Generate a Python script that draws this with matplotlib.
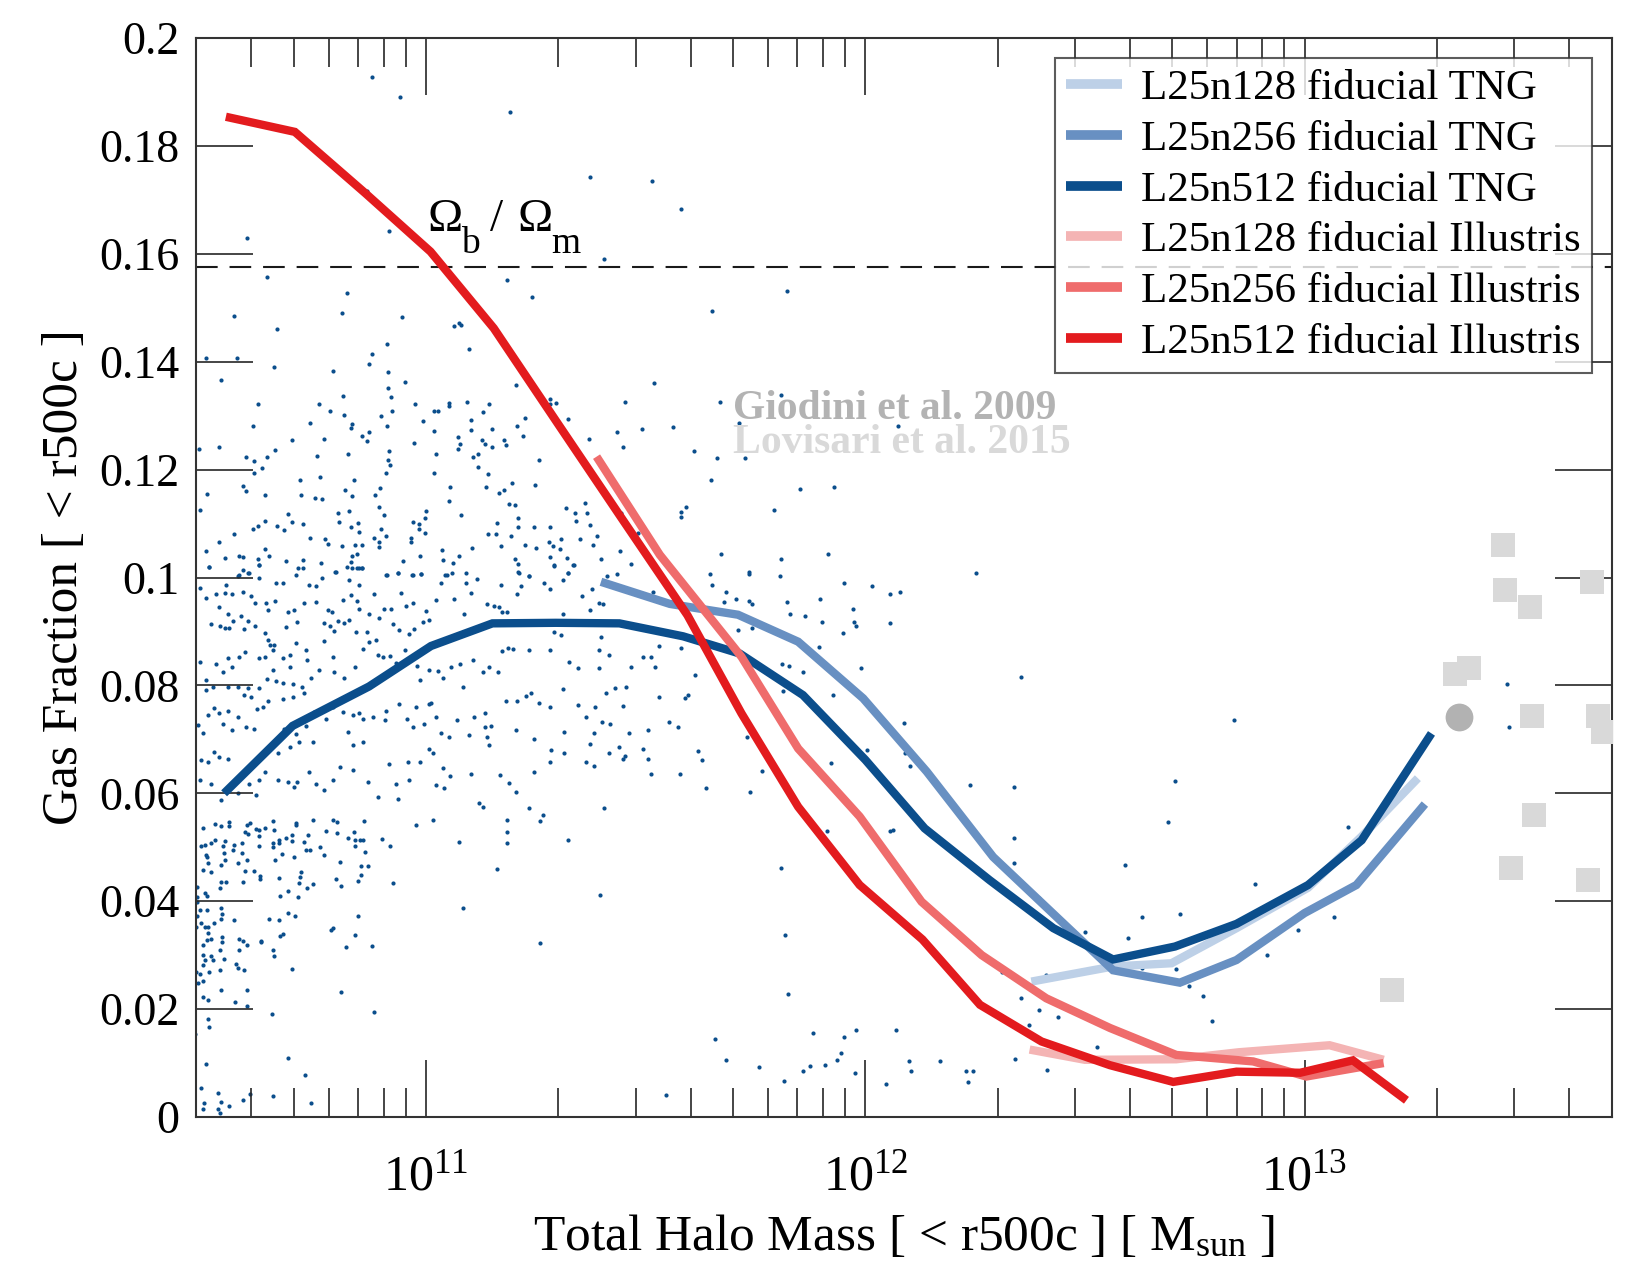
import numpy as np
import matplotlib
matplotlib.use("Agg")
import matplotlib.pyplot as plt
from matplotlib.ticker import FixedLocator, NullLocator, LogLocator, LogFormatterMathtext

plt.rcParams['font.family'] = ['Liberation Serif', 'DejaVu Serif']
plt.rcParams['mathtext.fontset'] = 'custom'
plt.rcParams['mathtext.rm'] = 'Liberation Serif'
plt.rcParams['mathtext.it'] = 'Liberation Serif:italic'
plt.rcParams['mathtext.bf'] = 'Liberation Serif:bold'

# ---------------- data (log10 M500c [Msun], gas fraction) ----------------
tng128_logm = [12.378, 12.564, 12.697, 12.845, 13.008, 13.130, 13.258]
tng128_fgas = [0.0251, 0.0279, 0.0285, 0.0350, 0.0425, 0.0520, 0.0628]

tng256_logm = [11.398, 11.555, 11.710, 11.847, 11.995, 12.140, 12.291, 12.430, 12.564,
               12.716, 12.845, 13.000, 13.118, 13.274]
tng256_fgas = [0.0992, 0.0951, 0.0931, 0.0881, 0.0776, 0.0640, 0.0482, 0.0375, 0.0272,
               0.0249, 0.0291, 0.0378, 0.0430, 0.0580]

tng512_logm = [10.540, 10.696, 10.870, 11.011, 11.151, 11.295, 11.440, 11.585, 11.714,
               11.858, 12.000, 12.135, 12.283, 12.428, 12.564, 12.705, 12.845, 13.008,
               13.130, 13.289]
tng512_fgas = [0.0600, 0.0725, 0.0798, 0.0873, 0.0915, 0.0916, 0.0915, 0.0891, 0.0859,
               0.0782, 0.0662, 0.0535, 0.0439, 0.0350, 0.0292, 0.0316, 0.0358, 0.0430,
               0.0513, 0.0711]

ill128_logm = [12.374, 12.500, 12.708, 12.850, 13.057, 13.180]
ill128_fgas = [0.0125, 0.0106, 0.0107, 0.0120, 0.0133, 0.0106]

ill256_logm = [11.388, 11.532, 11.718, 11.847, 11.987, 12.128, 12.265, 12.412, 12.557,
               12.708, 12.883, 13.004, 13.180]
ill256_fgas = [0.1224, 0.1042, 0.0853, 0.0683, 0.0557, 0.0399, 0.0300, 0.0220, 0.0165,
               0.0115, 0.0103, 0.0075, 0.0100]

ill512_logm = [10.544, 10.701, 10.862, 11.010, 11.154, 11.300, 11.445, 11.595, 11.718,
               11.847, 11.987, 12.130, 12.261, 12.401, 12.557, 12.701, 12.845, 12.990,
               13.110, 13.232]
ill512_fgas = [0.1854, 0.1826, 0.1712, 0.1604, 0.1462, 0.1285, 0.1110, 0.0930, 0.0748,
               0.0575, 0.0430, 0.0329, 0.0208, 0.0140, 0.0096, 0.0065, 0.0084, 0.0082,
               0.0105, 0.0031]

giodini_logm = [13.352]
giodini_fgas = [0.0741]

lovisari_logm = [13.451, 13.456, 13.513, 13.655, 13.342, 13.374, 13.518, 13.669, 13.680,
                 13.522, 13.470, 13.645, 13.200]
lovisari_fgas = [0.1061, 0.0977, 0.0946, 0.0992, 0.0821, 0.0832, 0.0744, 0.0744, 0.0714,
                 0.0559, 0.0462, 0.0440, 0.0235]

omega_b_over_omega_m = 0.1575

# individual halos (L25n512 TNG), (log10 M, f_gas)
halos_upper = [
    (10.877, 0.1928), (10.940, 0.1890), (11.190, 0.1863), (11.372, 0.1743), (11.514, 0.1735),
    (11.581, 0.1683), (10.591, 0.1630), (10.915, 0.1643), (10.866, 0.1716), (11.405, 0.1591),
    (10.637, 0.1557), (10.820, 0.1528), (10.808, 0.1491), (10.563, 0.1485), (10.660, 0.1460),
    (10.945, 0.1482), (11.063, 0.1466), (11.074, 0.1471), (11.080, 0.1468), (11.183, 0.1551),
    (11.241, 0.1519), (11.651, 0.1494), (11.821, 0.1531), (11.097, 0.1423), (10.910, 0.1433),
    (10.876, 0.1414), (10.869, 0.1396), (10.654, 0.1390), (10.498, 0.1407), (10.569, 0.1407),
    (10.532, 0.1366), (10.789, 0.1382), (10.913, 0.1381), (11.518, 0.1361), (11.453, 0.1326),
    (11.491, 0.1276), (11.435, 0.1270), (11.562, 0.1279), (11.669, 0.1326), (11.713, 0.1287),
    (11.807, 0.1339),
]

halos_band1 = [
    (10.482, 0.1239), (10.529, 0.1242), (10.605, 0.1281), (10.618, 0.1321), (10.590, 0.1224),
    (10.607, 0.1216), (10.638, 0.1223), (10.626, 0.1203), (10.608, 0.1194), (10.657, 0.1237),
    (10.695, 0.1254), (10.736, 0.1287), (10.755, 0.1321), (10.780, 0.1309), (10.811, 0.1336),
    (10.814, 0.1302), (10.831, 0.1284), (10.829, 0.1278), (10.855, 0.1262), (10.865, 0.1253),
    (10.871, 0.1270), (10.821, 0.1228), (10.751, 0.1226), (10.767, 0.1257), (10.758, 0.1186),
    (10.713, 0.1181), (10.715, 0.1153), (10.748, 0.1147), (10.762, 0.1145), (10.582, 0.1170),
    (10.590, 0.1160), (10.633, 0.1152), (10.500, 0.1155), (10.484, 0.1126), (10.913, 0.1351),
    (10.920, 0.1335), (10.922, 0.1308), (10.898, 0.1300), (10.912, 0.1281), (10.915, 0.1234),
    (10.914, 0.1217), (10.917, 0.1208), (10.908, 0.1194), (10.952, 0.1363), (10.975, 0.1321),
    (10.993, 0.1291), (11.017, 0.1309), (11.026, 0.1309), (11.019, 0.1271), (11.022, 0.1229),
    (11.018, 0.1194), (10.972, 0.1249), (11.053, 0.1324), (11.052, 0.1318), (11.094, 0.1326),
    (11.102, 0.1292), (11.102, 0.1273), (11.129, 0.1307), (11.142, 0.1321), (11.151, 0.1276),
    (11.127, 0.1255), (11.133, 0.1247), (11.150, 0.1241), (11.178, 0.1254), (11.182, 0.1245),
    (11.072, 0.1261), (11.078, 0.1247), (11.073, 0.1238), (11.119, 0.1228), (11.119, 0.1204),
    (11.106, 0.1223), (11.141, 0.1192), (11.137, 0.1168), (11.165, 0.1157), (11.178, 0.1163),
    (11.195, 0.1176), (11.206, 0.1281), (11.221, 0.1263), (11.225, 0.1296), (11.205, 0.1357),
    (11.258, 0.1217), (11.281, 0.1330), (11.283, 0.1321), (11.296, 0.1323), (11.324, 0.1294),
    (11.370, 0.1257), (11.248, 0.1171), (11.054, 0.1168), (11.053, 0.1142), (11.079, 0.1116),
    (10.896, 0.1166), (10.884, 0.1153), (10.893, 0.1131), (10.903, 0.1116), (10.836, 0.1181),
    (10.815, 0.1163), (10.831, 0.1151), (10.824, 0.1124), (10.799, 0.1120), (10.801, 0.1102),
    (10.830, 0.1094), (10.845, 0.1101), (10.846, 0.1085), (10.898, 0.1089), (10.908, 0.1076),
    (10.881, 0.1074), (10.893, 0.1066), (10.893, 0.1056), (10.965, 0.1074), (10.965, 0.1065),
    (10.969, 0.1103), (10.984, 0.1099), (10.984, 0.1089), (10.998, 0.1082), (10.997, 0.1111),
    (10.999, 0.1124), (10.685, 0.1117), (10.660, 0.1095), (10.676, 0.1088), (10.694, 0.1102),
    (10.719, 0.1100), (10.632, 0.1104), (10.618, 0.1095), (10.606, 0.1089), (10.562, 0.1081),
    (10.528, 0.1065), (10.498, 0.1050), (10.541, 0.1037), (10.505, 0.1019), (10.575, 0.1039),
    (10.583, 0.1038), (10.617, 0.1035), (10.619, 0.1023), (10.634, 0.1052), (10.643, 0.1040),
    (10.681, 0.1030), (10.720, 0.1032), (10.735, 0.1073), (10.769, 0.1072), (10.777, 0.1063),
    (10.808, 0.1059), (10.832, 0.1039), (10.842, 0.1043), (10.839, 0.1061), (10.853, 0.1061),
    (10.830, 0.1029), (10.819, 0.1019), (10.842, 0.1018), (10.855, 0.1017), (10.761, 0.1026),
    (10.708, 0.1018), (10.582, 0.1014), (10.594, 0.1009), (10.572, 0.1003), (10.794, 0.1010),
    (10.909, 0.1005), (10.937, 0.1008), (10.948, 0.1031), (10.968, 0.1005), (10.989, 0.1006),
    (10.985, 0.1039), (11.035, 0.1051), (11.039, 0.1032), (11.062, 0.1027), (11.075, 0.1039),
    (11.044, 0.1005), (11.091, 0.1008), (11.104, 0.1055), (11.141, 0.1080), (11.160, 0.1081),
    (11.161, 0.1101), (11.171, 0.1059), (11.193, 0.1076), (11.189, 0.1137), (11.203, 0.1135),
    (11.210, 0.1111), (11.209, 0.1094), (11.225, 0.1060), (11.245, 0.1094), (11.251, 0.1055),
    (11.203, 0.1035), (11.210, 0.1025), (11.210, 0.1010), (11.235, 0.1003), (11.281, 0.1093),
    (11.280, 0.1066), (11.289, 0.1059), (11.306, 0.1072), (11.305, 0.1053), (11.282, 0.1038),
    (11.291, 0.1022), (11.320, 0.1037), (11.322, 0.1009), (11.335, 0.1023), (11.318, 0.1129),
    (11.339, 0.1119), (11.342, 0.1105), (11.361, 0.1138), (11.367, 0.1120), (11.373, 0.1098),
    (11.350, 0.1071), (11.379, 0.1061), (11.388, 0.1076), (11.397, 0.1035),
]

halos_band2 = [
    (10.506, 0.1020), (10.575, 0.1004), (10.596, 0.1009), (10.620, 0.1000), (10.619, 0.1023),
    (10.658, 0.0990), (10.675, 0.0990), (10.704, 0.1004), (10.720, 0.1018), (10.733, 0.0987),
    (10.749, 0.0984), (10.762, 0.1000), (10.793, 0.1010), (10.824, 0.0996), (10.831, 0.1018),
    (10.846, 0.1018), (10.854, 0.1017), (10.846, 0.0987), (10.810, 0.0959), (10.829, 0.0968),
    (10.843, 0.0956), (10.881, 0.0969), (10.910, 0.1005), (10.937, 0.1009), (10.969, 0.1004),
    (10.989, 0.1006), (10.943, 0.0972), (10.953, 0.0947), (10.971, 0.0952), (11.000, 0.0938),
    (11.022, 0.0958), (11.034, 0.0989), (11.060, 0.1009), (11.047, 0.1004), (11.091, 0.0989),
    (11.101, 0.0972), (11.115, 0.0997), (11.064, 0.0960), (11.087, 0.0933), (11.138, 0.0950),
    (11.154, 0.0947), (11.167, 0.0945), (11.173, 0.0936), (11.184, 0.0936), (11.170, 0.0986),
    (11.211, 0.1009), (11.216, 0.0984), (11.208, 0.0970), (11.235, 0.1002), (11.269, 0.0990),
    (11.283, 0.0978), (11.292, 0.1023), (11.312, 0.0996), (11.322, 0.1009), (11.336, 0.1023),
    (11.355, 0.0966), (11.378, 0.0978), (11.394, 0.0953), (11.402, 0.0950), (11.372, 0.0939),
    (11.411, 0.1002), (11.434, 0.1006), (11.466, 0.1025), (11.459, 0.0979), (11.478, 0.0970),
    (11.489, 0.0968), (11.516, 0.0973), (11.311, 0.0932), (10.499, 0.0962), (10.529, 0.0945),
    (10.548, 0.0933), (10.486, 0.0981), (10.510, 0.0913), (10.531, 0.0911), (10.543, 0.0907),
    (10.552, 0.0907), (10.561, 0.0920), (10.578, 0.0929), (10.594, 0.0919), (10.611, 0.0911),
    (10.639, 0.0939), (10.586, 0.0905), (10.610, 0.0952), (10.559, 0.0970), (10.541, 0.0972),
    (10.522, 0.0969), (10.544, 0.0987), (10.582, 0.0973), (10.601, 0.0966), (10.635, 0.0953),
    (10.655, 0.0957), (10.685, 0.0936), (10.698, 0.0939), (10.681, 0.0908), (10.707, 0.0918),
    (10.722, 0.0952), (10.749, 0.0954), (10.776, 0.0939), (10.786, 0.0936), (10.768, 0.0915),
    (10.780, 0.0911), (10.799, 0.0919), (10.791, 0.0900), (10.814, 0.0915), (10.825, 0.0921),
    (10.840, 0.0899), (10.865, 0.0899), (10.848, 0.0942), (10.871, 0.0933), (10.892, 0.0925),
    (10.905, 0.0942), (10.920, 0.0941), (10.924, 0.0913), (10.939, 0.0902), (10.962, 0.0895),
    (10.973, 0.0904), (10.992, 0.0918), (11.007, 0.0921),
    (10.634, 0.0897), (10.644, 0.0874), (10.654, 0.0874), (10.639, 0.0884), (10.619, 0.0851),
    (10.633, 0.0853), (10.652, 0.0865), (10.675, 0.0850), (10.691, 0.0857), (10.704, 0.0878),
    (10.726, 0.0866), (10.729, 0.0847), (10.689, 0.0834), (10.651, 0.0828), (10.638, 0.0811),
    (10.658, 0.0808), (10.675, 0.0805), (10.696, 0.0803), (10.717, 0.0797), (10.738, 0.0813),
    (10.755, 0.0829), (10.767, 0.0882), (10.787, 0.0852), (10.791, 0.0825), (10.814, 0.0813),
    (10.839, 0.0835), (10.856, 0.0868), (10.869, 0.0881), (10.886, 0.0884), (10.890, 0.0856),
    (10.901, 0.0853), (10.918, 0.0855), (10.931, 0.0842), (10.952, 0.0865), (10.969, 0.0852),
    (10.979, 0.0836), (10.986, 0.0810), (11.007, 0.0828), (11.026, 0.0826), (11.038, 0.0813),
    (11.057, 0.0834), (11.076, 0.0840), (11.083, 0.0797), (11.106, 0.0847), (11.129, 0.0825),
    (11.144, 0.0835), (11.163, 0.0825), (11.173, 0.0864), (11.197, 0.0868), (11.186, 0.0869),
    (11.235, 0.0865), (11.281, 0.0866), (11.292, 0.0899), (11.307, 0.0893), (11.325, 0.0844),
    (11.345, 0.0833), (11.394, 0.0865), (11.398, 0.0890), (11.417, 0.0856), (11.393, 0.0833),
    (11.466, 0.0834), (11.493, 0.0853), (11.512, 0.0853), (11.522, 0.0835), (11.531, 0.0873),
    (11.580, 0.0870), (11.612, 0.0819), (10.484, 0.0844), (10.499, 0.0810), (10.537, 0.0825),
    (10.522, 0.0840), (10.559, 0.0834), (10.575, 0.0853), (10.588, 0.0862), (10.548, 0.0851),
    (10.514, 0.0797), (10.499, 0.0791), (10.548, 0.0797), (10.571, 0.0797), (10.594, 0.0796),
    (10.601, 0.0779), (10.586, 0.0782), (10.620, 0.0796),
]

halos_band3 = [
    (10.480, 0.0726), (10.491, 0.0711), (10.503, 0.0745), (10.518, 0.0758), (10.529, 0.0748),
    (10.537, 0.0729), (10.548, 0.0752), (10.559, 0.0717), (10.571, 0.0742), (10.590, 0.0723),
    (10.609, 0.0720), (10.614, 0.0757), (10.628, 0.0760), (10.639, 0.0772), (10.673, 0.0774),
    (10.696, 0.0779), (10.723, 0.0785), (10.745, 0.0751), (10.726, 0.0724), (10.742, 0.0695),
    (10.704, 0.0709), (10.676, 0.0720), (10.662, 0.0674), (10.689, 0.0686), (10.711, 0.0695),
    (10.772, 0.0737), (10.787, 0.0760), (10.810, 0.0751), (10.833, 0.0745), (10.846, 0.0748),
    (10.856, 0.0737), (10.821, 0.0714), (10.834, 0.0689), (10.856, 0.0695), (10.878, 0.0742),
    (10.906, 0.0735), (10.909, 0.0753), (10.939, 0.0766), (10.957, 0.0737), (10.969, 0.0723),
    (10.994, 0.0729), (11.022, 0.0742), (11.007, 0.0766), (10.977, 0.0760), (11.011, 0.0768),
    (11.034, 0.0711), (11.053, 0.0704), (11.070, 0.0735), (11.098, 0.0708), (11.110, 0.0742),
    (11.135, 0.0748), (11.138, 0.0704), (11.142, 0.0689), (11.133, 0.0723), (11.148, 0.0724),
    (11.182, 0.0772), (11.205, 0.0717), (11.208, 0.0772), (11.227, 0.0780), (11.239, 0.0785),
    (11.256, 0.0768), (11.281, 0.0760), (11.311, 0.0794), (11.345, 0.0763), (11.363, 0.0742),
    (11.385, 0.0760), (11.410, 0.0786), (11.429, 0.0795), (11.455, 0.0797), (11.448, 0.0762),
    (11.419, 0.0729), (11.400, 0.0732), (11.383, 0.0712), (11.372, 0.0692), (11.315, 0.0714),
    (11.284, 0.0680), (11.246, 0.0701), (11.463, 0.0712), (11.504, 0.0717), (11.531, 0.0779),
    (11.554, 0.0732), (11.573, 0.0723), (11.590, 0.0776), (11.596, 0.0783),
    (10.487, 0.0661), (10.503, 0.0658), (10.518, 0.0677), (10.529, 0.0667), (10.548, 0.0664),
    (10.486, 0.0624), (10.510, 0.0618), (10.544, 0.0606), (10.533, 0.0587), (10.571, 0.0600),
    (10.597, 0.0618), (10.613, 0.0596), (10.620, 0.0624), (10.632, 0.0640), (10.662, 0.0624),
    (10.685, 0.0621), (10.700, 0.0612), (10.707, 0.0621), (10.734, 0.0640), (10.749, 0.0618),
    (10.768, 0.0606), (10.787, 0.0624), (10.804, 0.0648), (10.833, 0.0643), (10.867, 0.0621),
    (10.890, 0.0593), (10.916, 0.0654), (10.937, 0.0590), (10.931, 0.0618), (10.958, 0.0658),
    (10.960, 0.0624), (10.986, 0.0658), (11.007, 0.0683), (11.016, 0.0674), (11.022, 0.0615),
    (11.041, 0.0609), (11.038, 0.0646), (11.054, 0.0632), (11.102, 0.0635), (11.129, 0.0575),
    (11.121, 0.0582), (11.168, 0.0633), (11.188, 0.0619), (11.205, 0.0602), (11.246, 0.0640),
    (11.265, 0.0559), (11.235, 0.0572), (11.383, 0.0650), (11.404, 0.0572), (11.512, 0.0636),
    (11.578, 0.0636), (11.364, 0.0658), (11.417, 0.0675), (11.438, 0.0686), (11.448, 0.0664),
    (11.493, 0.0683), (11.506, 0.0664), (11.453, 0.0669), (11.281, 0.0658), (11.315, 0.0674),
]

halos_low = [
    (10.492, 0.0536), (10.519, 0.0544), (10.534, 0.0540), (10.552, 0.0546), (10.552, 0.0539),
    (10.591, 0.0542), (10.600, 0.0545), (10.612, 0.0534), (10.619, 0.0532), (10.633, 0.0536),
    (10.654, 0.0532), (10.652, 0.0548), (10.704, 0.0545), (10.704, 0.0542), (10.742, 0.0551),
    (10.771, 0.0531), (10.787, 0.0550), (10.797, 0.0546), (10.835, 0.0529), (10.858, 0.0548),
    (10.488, 0.0503), (10.497, 0.0505), (10.510, 0.0508), (10.519, 0.0513), (10.538, 0.0502),
    (10.542, 0.0511), (10.560, 0.0495), (10.562, 0.0505), (10.580, 0.0507), (10.580, 0.0489),
    (10.593, 0.0477), (10.499, 0.0486), (10.501, 0.0482), (10.504, 0.0471), (10.532, 0.0468),
    (10.539, 0.0490), (10.542, 0.0476), (10.571, 0.0471), (10.587, 0.0528), (10.595, 0.0524),
    (10.619, 0.0521), (10.619, 0.0503), (10.652, 0.0507), (10.652, 0.0500), (10.664, 0.0513),
    (10.664, 0.0508), (10.682, 0.0517), (10.695, 0.0523), (10.695, 0.0511), (10.700, 0.0482),
    (10.671, 0.0487), (10.655, 0.0476), (10.722, 0.0509), (10.726, 0.0494), (10.736, 0.0495),
    (10.732, 0.0523), (10.758, 0.0500), (10.767, 0.0486), (10.797, 0.0526), (10.821, 0.0517),
    (10.838, 0.0513), (10.850, 0.0514), (10.856, 0.0513), (10.837, 0.0503), (10.861, 0.0492),
    (10.803, 0.0472), (10.852, 0.0466), (10.867, 0.0466), (10.899, 0.0516), (10.917, 0.0502),
    (10.976, 0.0542), (11.015, 0.0551), (10.492, 0.0458), (10.510, 0.0455), (10.532, 0.0435),
    (10.545, 0.0435), (10.584, 0.0435), (10.588, 0.0456), (10.607, 0.0456), (10.621, 0.0447),
    (10.621, 0.0441), (10.664, 0.0443), (10.712, 0.0445), (10.716, 0.0455), (10.729, 0.0424),
    (10.710, 0.0434), (10.742, 0.0432), (10.795, 0.0441), (10.806, 0.0429), (10.845, 0.0437),
    (10.852, 0.0449), (10.924, 0.0434), (10.479, 0.0427), (10.478, 0.0408), (10.497, 0.0415),
    (10.501, 0.0409), (10.530, 0.0424), (10.478, 0.0398), (10.484, 0.0384), (10.501, 0.0384),
    (10.532, 0.0387), (10.533, 0.0367), (10.536, 0.0376), (10.562, 0.0366), (10.479, 0.0372),
    (10.488, 0.0359), (10.497, 0.0352), (10.504, 0.0353), (10.516, 0.0359), (10.475, 0.0352),
    (10.504, 0.0341), (10.501, 0.0329), (10.510, 0.0330), (10.536, 0.0333), (10.536, 0.0325),
    (10.573, 0.0330), (10.584, 0.0327), (10.593, 0.0319), (10.491, 0.0319), (10.530, 0.0309),
    (10.575, 0.0309), (10.492, 0.0301), (10.510, 0.0298), (10.514, 0.0291), (10.497, 0.0291),
    (10.540, 0.0293), (10.492, 0.0282), (10.506, 0.0269), (10.530, 0.0273), (10.568, 0.0284),
    (10.571, 0.0276), (10.586, 0.0272), (10.475, 0.0268), (10.486, 0.0265), (10.492, 0.0253),
    (10.481, 0.0248), (10.532, 0.0235), (10.492, 0.0223), (10.503, 0.0217), (10.565, 0.0214),
    (10.593, 0.0236), (10.593, 0.0206), (10.623, 0.0327), (10.624, 0.0325), (10.643, 0.0367),
    (10.664, 0.0366), (10.686, 0.0378), (10.702, 0.0373), (10.652, 0.0310), (10.654, 0.0299),
    (10.668, 0.0335), (10.673, 0.0340), (10.668, 0.0410), (10.685, 0.0419), (10.709, 0.0407),
    (10.694, 0.0275), (10.648, 0.0191), (10.784, 0.0346), (10.789, 0.0350), (10.818, 0.0316),
    (10.838, 0.0337), (10.844, 0.0372), (10.876, 0.0317), (10.806, 0.0231), (10.881, 0.0194),
    (10.504, 0.0182), (10.506, 0.0167), (10.474, 0.0154), (10.499, 0.0099), (10.488, 0.0054),
    (10.525, 0.0044), (10.494, 0.0026), (10.532, 0.0027), (10.492, 0.0015), (10.527, 0.0015),
    (10.530, 0.0007), (10.551, 0.0020), (10.584, 0.0032), (10.600, 0.0043), (10.652, 0.0038),
    (10.685, 0.0109), (10.725, 0.0077), (10.738, 0.0026), (11.074, 0.0509), (11.085, 0.0387),
    (11.161, 0.0460), (11.183, 0.0528), (11.183, 0.0508), (11.183, 0.0550), (11.259, 0.0548),
    (11.259, 0.0322), (11.324, 0.0513), (11.396, 0.0411), (11.547, 0.0040), (11.657, 0.0145),
    (11.682, 0.0106), (11.758, 0.0092), (11.815, 0.0066), (11.808, 0.0461), (11.817, 0.0338),
    (11.824, 0.0228),
]

halos_massive = [
    (11.449, 0.1241), (11.610, 0.1235), (11.663, 0.1222), (11.727, 0.1222), (11.648, 0.1180),
    (11.851, 0.1164), (11.929, 0.1168), (11.793, 0.1125), (11.580, 0.1122), (11.591, 0.1131),
    (11.580, 0.1113), (12.075, 0.1280), (11.443, 0.1120), (11.483, 0.1083), (11.441, 0.1049),
    (11.671, 0.1043), (11.915, 0.1044), (11.809, 0.1034), (11.646, 0.1006), (11.651, 0.0986),
    (11.683, 0.0974), (11.679, 0.0955), (11.706, 0.0960), (11.734, 0.1010), (11.736, 0.1007),
    (11.734, 0.0956), (11.743, 0.0950), (11.711, 0.0903), (11.743, 0.0906), (11.805, 0.1003),
    (11.821, 0.0955), (11.828, 0.0933), (11.862, 0.0929), (11.897, 0.0960), (11.902, 0.0917),
    (11.894, 0.0872), (11.952, 0.0989), (11.971, 0.0942), (11.974, 0.0917), (11.979, 0.0911),
    (11.949, 0.0898), (12.016, 0.0985), (12.056, 0.0969), (12.080, 0.0974), (12.057, 0.0915),
    (12.252, 0.1009), (11.811, 0.0839), (11.827, 0.0836), (11.858, 0.0825), (11.813, 0.0790),
    (11.989, 0.0832), (11.927, 0.0783), (12.354, 0.0816), (12.088, 0.0730), (12.004, 0.0681),
    (12.091, 0.0675), (12.101, 0.0651), (11.922, 0.0657), (11.730, 0.0704), (11.764, 0.0642),
    (11.629, 0.0662), (11.618, 0.0678), (11.637, 0.0610), (11.737, 0.0602), (12.238, 0.0616),
    (12.338, 0.0612), (11.912, 0.0530), (12.055, 0.0531), (12.064, 0.0532), (12.338, 0.0518),
    (12.339, 0.0470), (12.396, 0.0406),
    (12.500, 0.0343), (12.597, 0.0332), (12.630, 0.0371), (12.716, 0.0377), (12.706, 0.0623),
    (12.688, 0.0546), (12.591, 0.0468), (12.840, 0.0736), (12.887, 0.0431), (12.915, 0.0300),
    (12.985, 0.0347), (13.066, 0.0370), (13.099, 0.0538), (12.411, 0.0264), (12.631, 0.0277),
    (12.708, 0.0274), (12.737, 0.0242), (12.769, 0.0224), (12.789, 0.0178), (12.355, 0.0220),
    (12.395, 0.0198), (12.372, 0.0171), (12.439, 0.0186), (12.527, 0.0129), (12.340, 0.0107),
    (12.413, 0.0088), (12.310, 0.0269), (13.461, 0.0803), (13.466, 0.0722),
    (11.859, 0.0086), (11.874, 0.0095), (11.880, 0.0155), (11.909, 0.0096), (11.935, 0.0106),
    (11.944, 0.0119), (11.952, 0.0148), (11.978, 0.0162), (11.976, 0.0081), (12.048, 0.0062),
    (12.070, 0.0161), (12.100, 0.0104), (12.105, 0.0085), (12.170, 0.0104), (12.229, 0.0086),
    (12.246, 0.0086), (12.233, 0.0065),
]

labels = ["L25n128 fiducial TNG", "L25n256 fiducial TNG", "L25n512 fiducial TNG",
          "L25n128 fiducial Illustris", "L25n256 fiducial Illustris", "L25n512 fiducial Illustris"]
colors = ["#bdd0e7", "#6890c2", "#0b4e8c", "#f4b4b4", "#ef6c6c", "#e31b1e"]
dot_color = "#0b4e8c"

# ---------------- figure ----------------
fig = plt.figure(figsize=(16.5, 12.75), dpi=100)
ax = fig.add_axes([196 / 1650, 1 - 1117 / 1275, 1416 / 1650, 1079 / 1275])

all_halos = halos_upper + halos_band1 + halos_band2 + halos_band3 + halos_low + halos_massive
hx = 10 ** np.array([p[0] for p in all_halos])
hy = np.array([p[1] for p in all_halos])
ax.plot(hx, hy, linestyle='none', marker='o', ms=3.0, mew=0, color=dot_color, zorder=1)

ax.axhline(omega_b_over_omega_m, color='#1a1a1a', lw=1.5, ls=(0, (10.4, 5.7)), zorder=2)

series = [(tng128_logm, tng128_fgas), (tng256_logm, tng256_fgas), (tng512_logm, tng512_fgas),
          (ill128_logm, ill128_fgas), (ill256_logm, ill256_fgas), (ill512_logm, ill512_fgas)]
for (lm, fg), c, lab in zip(series, colors, labels):
    ax.plot(10 ** np.array(lm), fg, color=c, lw=6.0, label=lab, zorder=3,
            solid_joinstyle='miter', solid_capstyle='butt')

ax.plot(10 ** np.array(lovisari_logm), lovisari_fgas, linestyle='none', marker='s',
        ms=17.5, mew=0, color='#d9d9d9', zorder=4)
ax.plot(10 ** np.array(giodini_logm), giodini_fgas, linestyle='none', marker='o',
        ms=20, mew=0, color='#b2b2b2', zorder=4)

# Omega_b / Omega_m annotation (MATLAB-style large, low subscripts)
om_x, om_y = 10 ** 11.002, 0.1643
for txt, dx, dy, fs in [('Ω', 0, 0, 34), ('b', 24.2, -16.3, 27), ('/', 45.0, 0, 34),
                        ('Ω', 65.5, 0, 34), ('m', 89.5, -16.3, 27)]:
    ax.annotate(txt, xy=(om_x, om_y), xytext=(dx, dy), textcoords='offset points',
                fontsize=fs, ha='left', va='baseline', zorder=5)

ax.text(10 ** 11.699, 0.1294, 'Giodini et al. 2009', fontsize=30, fontweight='bold',
        color='#b3b3b3', ha='left', va='baseline', zorder=5)
ax.text(10 ** 11.699, 0.1230, 'Lovisari et al. 2015', fontsize=30, fontweight='bold',
        color='#d9d9d9', ha='left', va='baseline', zorder=5)

ax.set_xscale('log')
ax.set_xlim(10 ** 10.476, 10 ** 13.70)
ax.set_ylim(0, 0.2)

ax.xaxis.set_major_locator(FixedLocator([1e11, 1e12, 1e13]))
ax.xaxis.set_major_formatter(LogFormatterMathtext())
ax.xaxis.set_minor_locator(LogLocator(base=10, subs=np.arange(2, 10)))
yt = [0, 0.02, 0.04, 0.06, 0.08, 0.1, 0.12, 0.14, 0.16, 0.18, 0.2]
ax.set_yticks(yt)
ax.set_yticklabels(['0', '0.02', '0.04', '0.06', '0.08', '0.1', '0.12', '0.14', '0.16', '0.18', '0.2'])
ax.yaxis.set_minor_locator(NullLocator())

tick_col = '#262626'
ax.tick_params(axis='both', which='major', direction='in', length=41, width=1.2,
               color=tick_col, top=True, right=True, labelsize=33)
ax.tick_params(axis='both', which='minor', direction='in', length=21, width=1.2,
               color=tick_col, top=True, right=True)
ax.tick_params(axis='x', which='major', pad=27, labelsize=36)
ax.tick_params(axis='y', which='major', pad=12)
for s in ax.spines.values():
    s.set_linewidth(1.5)
    s.set_color('#333333')

ax.set_xlabel('Total Halo Mass [ < r500c ] [ M$_{\\rm sun}$ ]', fontsize=37, labelpad=10)
ax.set_ylabel('Gas Fraction [ < r500c ]', fontsize=37, labelpad=8)

leg = ax.legend(loc='upper right', fontsize=31, frameon=True, fancybox=False,
                borderaxespad=0.47, borderpad=0.25, labelspacing=0.27,
                handlelength=1.3, handletextpad=0.45)
leg.get_frame().set_edgecolor('#333333')
leg.get_frame().set_linewidth(1.5)
for h in leg.get_lines():
    h.set_linewidth(7.0)
leg.set_zorder(6)

fig.savefig('out.png', dpi=100, facecolor='white')
